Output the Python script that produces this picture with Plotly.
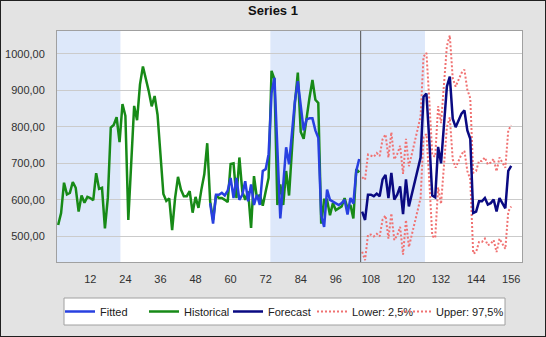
import plotly.graph_objects as go

# Canvas and plot-area geometry (pixels)
W, H = 546, 337
ML, MR, MT, MB = 57, 24, 31, 75
PW, PH = W - ML - MR, H - MT - MB

# ---- data -------------------------------------------------------------
hist_x = list(range(1, 105))
historical = [
    531, 564, 647, 615, 619, 649, 633, 568, 612, 592,
    608, 605, 599, 673, 630, 633, 522, 606, 798, 805,
    826, 758, 862, 830, 545, 700, 857, 818, 916, 965,
    934, 897, 856, 884, 833, 718, 616, 597, 604, 517,
    605, 663, 628, 610, 610, 624, 565, 608, 578, 628,
    670, 755, 596, 545, 612, 605, 605, 600, 594, 698,
    700, 605, 716, 623, 600, 623, 523, 665, 605, 614,
    584, 623, 660, 953, 930, 586, 642, 586, 679, 612,
    749, 865, 948, 786, 767, 827, 880, 928, 874, 865,
    535, 600, 600, 558, 591, 572, 577, 582, 605, 577,
    586, 549, 684, 675,
]

fitted_x = list(range(53, 105))
fitted = [
    591, 535, 614, 614, 619, 612, 625, 660, 605, 660,
    600, 614, 651, 596, 642, 586, 614, 586, 679, 684,
    725, 892, 934, 716, 549, 642, 744, 697, 780, 870,
    925, 850, 790, 820, 823, 823, 790, 770, 558, 526,
    628, 600, 596, 591, 586, 591, 600, 560, 605, 590,
    679, 712,
]

fc_x = list(range(105, 157))
forecast = [
    568, 545, 614, 614, 610, 617, 610, 656, 668, 605,
    674, 601, 614, 637, 561, 656, 582, 614, 651, 684,
    716, 882, 891, 760, 612, 607, 745, 700, 800, 910,
    937, 822, 799, 817, 836, 845, 790, 767, 564, 568,
    596, 596, 605, 587, 591, 601, 568, 605, 591, 577,
    679, 693,
]
upper = [
    662, 655, 724, 722, 718, 728, 720, 766, 779, 716,
    785, 711, 725, 748, 671, 767, 692, 725, 762, 795,
    828, 992, 1002, 871, 722, 718, 856, 810, 911, 1021,
    1050, 933, 910, 928, 947, 956, 901, 878, 674, 679,
    707, 706, 716, 697, 702, 712, 678, 716, 701, 688,
    790, 804,
]
lower = [
    458, 435, 504, 505, 500, 507, 500, 546, 557, 494,
    563, 490, 503, 526, 450, 545, 471, 503, 540, 573,
    605, 771, 780, 649, 501, 496, 634, 589, 689, 799,
    826, 711, 688, 706, 725, 734, 679, 656, 453, 457,
    485, 485, 494, 476, 480, 490, 457, 494, 480, 466,
    568, 582,
]

x_ticks = [12, 24, 36, 48, 60, 72, 84, 96, 108, 120, 132, 144, 156]
x_tick_labels = [str(v) for v in x_ticks]
y_ticks = [500, 600, 700, 800, 900, 1000]
y_tick_labels = ["500,00", "600,00", "700,00", "800,00", "900,00", "1000,00"]

shade_periods = [(0.6, 22.3), (73.6, 126.5)]
split_x = 104.5
x_range = [0.6, 159.7]
y_range = [430, 1062]

# ---- styling ------------------------------------------------------------
FONT = "Liberation Sans, Arial, sans-serif"
BG = "#e3e3e3"
BAND = "#dde8fa"
C_FIT = "#2840e0"
C_HIST = "#178a17"
C_FC = "#0a0a82"
C_CI = "#f07272"

# legend frame (pixels) and legend entry placement
LEG_BOX = (64, 505, 298, 325)   # left, right, top, bottom
LEG_LEFT = 60
LEG_ENTRY = 39
LEG_LAST = 72


def px_x(px):
    return (px - ML) / PW


def px_y(py):
    return (MT + PH - py) / PH


fig = go.Figure()

fig.add_trace(go.Scatter(x=hist_x, y=historical, name="Historical", mode="lines",
                         line=dict(color=C_HIST, width=2.5), legendrank=2))
fig.add_trace(go.Scatter(x=fitted_x, y=fitted, name="Fitted", mode="lines",
                         line=dict(color=C_FIT, width=2.5), legendrank=1))
fig.add_trace(go.Scatter(x=fc_x, y=lower, name="Lower: 2,5%", mode="lines",
                         line=dict(color=C_CI, width=2, dash="2px,2px"), legendrank=4))
fig.add_trace(go.Scatter(x=fc_x, y=upper, name="Upper: 97,5%", mode="lines",
                         line=dict(color=C_CI, width=2, dash="2px,2px"), legendrank=5,
                         legendwidth=LEG_LAST))
fig.add_trace(go.Scatter(x=fc_x, y=forecast, name="Forecast", mode="lines",
                         line=dict(color=C_FC, width=2.5), legendrank=3))

shapes = []
for x0, x1 in shade_periods:
    shapes.append(dict(type="rect", xref="x", yref="paper", x0=x0, x1=x1, y0=0, y1=1,
                       fillcolor=BAND, line=dict(width=0), layer="below"))
shapes.append(dict(type="line", xref="x", yref="paper", x0=split_x, x1=split_x,
                   y0=0, y1=1, line=dict(color="#505050", width=1)))
# legend frame
shapes.append(dict(type="rect", xref="paper", yref="paper",
                   x0=px_x(LEG_BOX[0]), x1=px_x(LEG_BOX[1]),
                   y0=px_y(LEG_BOX[3]), y1=px_y(LEG_BOX[2]),
                   fillcolor="white", line=dict(color="#a0a0a0", width=1), layer="below"))
# outer frame around the whole canvas
shapes.append(dict(type="rect", xref="paper", yref="paper",
                   x0=px_x(0), x1=px_x(W), y0=px_y(H), y1=px_y(0),
                   line=dict(color="#202020", width=2), layer="above"))

fig.update_layout(
    width=W, height=H,
    margin=dict(l=ML, r=MR, t=MT, b=MB, autoexpand=False),
    paper_bgcolor=BG, plot_bgcolor="white",
    font=dict(family=FONT, size=11, color="#303030"),
    title=dict(text="<b>Series 1</b>", x=273 / W, xref="container", xanchor="center",
               y=1 - 10 / H, yref="container", yanchor="middle",
               font=dict(family=FONT, size=13, color="#111111")),
    shapes=shapes,
    showlegend=True,
    legend=dict(orientation="h", x=px_x(LEG_LEFT), xanchor="left",
                y=px_y((LEG_BOX[2] + LEG_BOX[3]) / 2), yanchor="middle",
                bgcolor="rgba(0,0,0,0)", borderwidth=0,
                font=dict(family=FONT, size=11, color="#202020"),
                itemwidth=30, entrywidth=LEG_ENTRY, traceorder="normal"),
    hovermode=False,
)

fig.update_xaxes(range=x_range, tickmode="array", tickvals=x_ticks, ticktext=x_tick_labels,
                 showgrid=False, zeroline=False, showline=True, mirror=True,
                 linecolor="#a0a0a0", linewidth=1, ticks="", ticklabelstandoff=7)
fig.update_yaxes(range=y_range, tickmode="array", tickvals=y_ticks, ticktext=y_tick_labels,
                 showgrid=True, gridcolor="#cbcbcb", gridwidth=1, zeroline=False,
                 showline=True, mirror=True, linecolor="#a0a0a0", linewidth=1,
                 ticks="", ticklabelstandoff=9)

fig.write_html("out.html")
